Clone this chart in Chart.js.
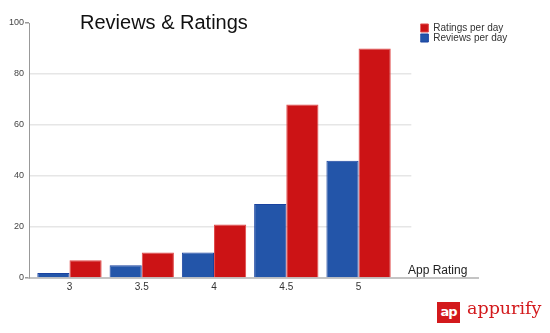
<!DOCTYPE html>
<html>
<head>
<meta charset="utf-8">
<script src="https://cdn.jsdelivr.net/npm/chart.js@4.4.1/dist/chart.umd.min.js"></script>
<style>
  body { margin: 0; background: #fff; }
  #wrap { position: relative; width: 550px; height: 333px; }
  #titulo { position: absolute; left: 80px; top: 12px; font: 20px 'Liberation Sans', Arial, sans-serif; color: #111; line-height: 1; }
  #logo { position: absolute; left: 437px; top: 302px; height: 22px; }
  #logo .ic { position: absolute; left: 0; top: 0; width: 23px; height: 21px; background: #d3191c; color: #fff; font: bold 13px 'DejaVu Sans', sans-serif; line-height: 19px; text-align: center; letter-spacing: -1px; }
  #logo .tx { position: absolute; left: 30px; top: -4px; font: 17.5px 'DejaVu Serif', serif; color: #d3191c; white-space: nowrap; }
</style>
</head>
<body>
<div id="wrap">
  <canvas id="grafico" width="550" height="333"></canvas>
  <div id="titulo">Reviews &amp; Ratings</div>
  <div id="logo"><div class="ic">ap</div><div class="tx">appurify</div></div>
</div>
<script>
// dados
var notas = [3, 3.5, 4, 4.5, 5];
var rotulos = ['3', '3.5', '4', '4.5', '5'];
var reviews = [2, 5, 10, 29, 46];
var ratings = [7, 10, 21, 68, 90];
var yTicks = [0, 20, 40, 60, 80, 100];

function pontos(vals) {
    let arr = [];
    for (let i = 0; i < notas.length; i++) {
        arr.push({ x: notas[i], y: vals[i] });
    }
    return arr;
}

// linha do eixo x que passa da área do gráfico + texto "App Rating"
const eixoExtra = {
    id: 'eixoExtra',
    beforeLayout(chart) {
        // legenda um pouco mais larga para o texto não ser cortado
        const lg = chart.legend;
        if (lg && !lg._largo) {
            const fitOrig = lg.fit.bind(lg);
            lg.fit = function() { fitOrig(); this.width += 8; };
            lg._largo = true;
        }
    },
    afterDraw(chart) {
        const c = chart.ctx, a = chart.chartArea;
        c.save();
        c.strokeStyle = '#c4c4c4';
        c.lineWidth = 2;
        c.beginPath();
        c.moveTo(a.right - 1, a.bottom);
        c.lineTo(479, a.bottom);
        c.stroke();
        c.fillStyle = '#222';
        c.font = "12px 'Liberation Sans', Arial, sans-serif";
        c.textBaseline = 'alphabetic';
        c.fillText('App Rating', 408, 274);
        c.restore();
    }
};

const ctx = document.getElementById('grafico').getContext('2d');
const grafico = new Chart(ctx, {
    type: 'bar',
    data: {
        datasets: [{
            label: 'Reviews per day',
            data: pontos(reviews),
            backgroundColor: '#2355a9',
            borderColor: '#1a43a0',
            borderWidth: 1
        }, {
            label: 'Ratings per day',
            data: pontos(ratings),
            backgroundColor: '#cc1315',
            borderColor: '#e04848',
            borderWidth: 1
        }]
    },
    options: {
        responsive: false,
        animation: false,
        categoryPercentage: 0.89,
        barPercentage: 1,
        layout: { padding: { top: 23, left: 0, right: 36, bottom: 0 } },
        plugins: {
            title: { display: false },
            tooltip: { enabled: false },
            legend: {
                position: 'right',
                align: 'start',
                reverse: true,
                labels: {
                    boxWidth: 8,
                    boxHeight: 8,
                    padding: 0,
                    color: '#333',
                    font: { family: "'Liberation Sans', Arial, sans-serif", size: 10 }
                }
            }
        },
        scales: {
            x: {
                type: 'linear',
                min: 2.72,
                max: 5.365,
                offset: false,
                afterBuildTicks: function(s) { s.ticks = notas.map(v => ({ value: v })); },
                afterFit: function(s) { s.height = 55; },
                grid: { display: false, drawTicks: false },
                border: { display: true, color: '#c4c4c4', width: 2 },
                ticks: {
                    padding: 3,
                    color: '#333',
                    font: { family: "'Liberation Sans', Arial, sans-serif", size: 10 },
                    callback: function(v) { return rotulos[notas.indexOf(v)]; }
                }
            },
            y: {
                min: 0,
                max: 100,
                afterBuildTicks: function(s) { s.ticks = yTicks.map(v => ({ value: v })); },
                afterFit: function(s) { s.width = 29; },
                grid: {
                    color: c => (c.tick && (c.tick.value === 0 || c.tick.value === 100)) ? 'rgba(0,0,0,0)' : '#e6e6e6',
                    tickColor: c => (c.tick && (c.tick.value === 0 || c.tick.value === 100)) ? '#999' : 'rgba(0,0,0,0)',
                    tickLength: 4,
                    lineWidth: 1.5
                },
                border: { display: true, color: '#999', width: 1 },
                ticks: {
                    padding: 1,
                    color: '#444',
                    font: { family: "'Liberation Sans', Arial, sans-serif", size: 9 }
                }
            },
            // só para deixar um espaço entre a área e a legenda
            espaco: {
                type: 'linear',
                position: 'right',
                display: true,
                min: 0,
                max: 1,
                afterFit: function(s) { s.width = 9; },
                grid: { display: false, drawTicks: false },
                border: { display: false },
                ticks: { display: false }
            }
        }
    },
    plugins: [eixoExtra]
});
</script>
</body>
</html>
